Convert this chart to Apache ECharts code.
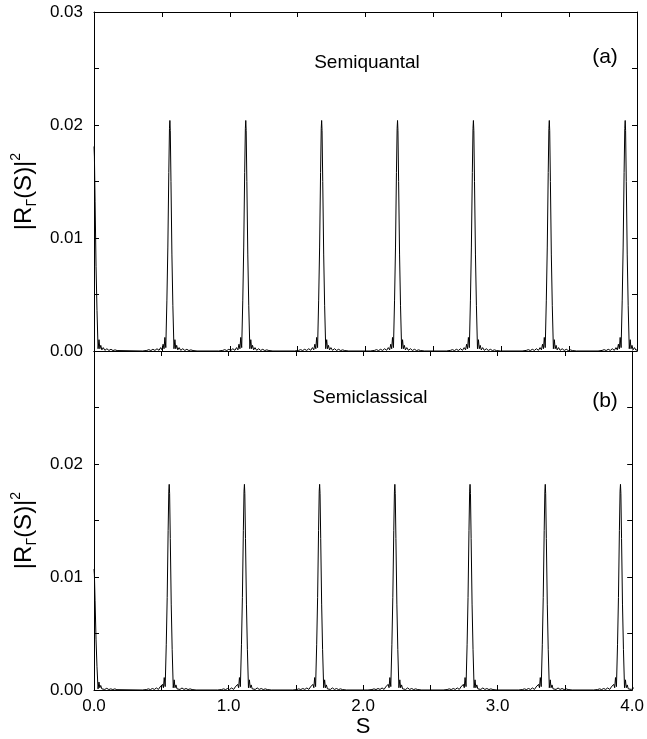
<!DOCTYPE html>
<html><head><meta charset="utf-8">
<script src="https://cdn.jsdelivr.net/npm/echarts@6/dist/echarts.min.js"></script>
<style>html,body{margin:0;padding:0;background:#fff}#c{width:647px;height:739px}</style>
</head><body><div id="c"></div>
<script>
// ---- data ----
// sample offsets (in S) around each resonance peak
const peakOffsets = [-0.17,-0.155,-0.14,-0.125,-0.11,-0.095,-0.08,-0.068,-0.058,-0.05,-0.043,-0.037,-0.03,-0.022,-0.015,-0.008,-0.003,0,0.003,0.008,0.015,0.022,0.03,0.037,0.043,0.05,0.058,0.068,0.08,0.095,0.11,0.125,0.14,0.155,0.17];
// |R|^2 profile of a full peak, panel (a) Semiquantal
const peakShapeA = [0.00005,0.00012,0.00004,0.00015,0.00005,0.0002,0.00006,0.0003,0.0001,0.0006,0.0002,0.0012,0.0003,0.0045,0.0092,0.0158,0.0197,0.0204,0.0195,0.0150,0.0085,0.0040,0.0002,0.0010,0.0002,0.0005,0.0001,0.0003,0.00006,0.0002,0.00005,0.00015,0.00004,0.0001,0.00004];
// |R|^2 profile of a full peak, panel (b) Semiclassical
const peakShapeB = [0.00004,0.0001,0.00004,0.00013,0.00005,0.00018,0.00005,0.00027,0.0001,0.0005,0.0002,0.0011,0.0003,0.0040,0.0082,0.0141,0.0176,0.0182,0.0174,0.0134,0.0076,0.0036,0.0002,0.0009,0.0002,0.00045,0.0001,0.00027,0.00005,0.00018,0.00005,0.00013,0.00004,0.0001,0.00004];
// half peak at S = 0 (offsets 0 .. 0.17)
const edgeShapeA = [0.0181,0.0172,0.0132,0.0075,0.0036,0.0002,0.0010,0.0002,0.0005,0.0001,0.0003,0.00006,0.0002,0.00005,0.00015,0.00004,0.0001,0.00004];
const edgeShapeB = [0.0107,0.0102,0.0079,0.0045,0.0021,0.0001,0.0007,0.0002,0.0004,0.0001,0.0002,0.00005,0.00015,0.00004,0.0001,0.00004,0.0001,0.00003];
// peak positions in S
const peakCentersA = [0.559,1.118,1.677,2.236,2.795,3.354,3.913];
const peakCentersB = [0.559,1.118,1.677,2.236,2.795,3.354,3.913];
// tick labels
const xTickLabels = ['0.0','1.0','2.0','3.0','4.0'];
const yTickLabels = ['0.00','0.01','0.02','0.03'];
const panelTitles = ['Semiquantal','Semiclassical'];
const panelTags = ['(a)','(b)'];

function buildSeries(edge, centers, shape) {
  const pts = [];
  const z = peakOffsets.indexOf(0);
  for (let i = 0; i < edge.length; i++) pts.push([peakOffsets[z + i], edge[i]]);
  centers.forEach(c => {
    pts.push([+(c - 0.2).toFixed(4), 0]);
    shape.forEach((v, i) => pts.push([+(c + peakOffsets[i]).toFixed(4), v]));
    pts.push([+(c + 0.2).toFixed(4), 0]);
  });
  return pts;
}
const dataA = buildSeries(edgeShapeA, peakCentersA, peakShapeA);
const dataB = buildSeries(edgeShapeB, peakCentersB, peakShapeB);

const FONT = "'Liberation Sans', Arial, Helvetica, sans-serif";
const black = '#000';
const axisLineStyle = {show: true, onZero: false, lineStyle: {color: black, width: 1}};
const tickStyle = {show: true, inside: true, length: 5, lineStyle: {color: black, width: 1}};

function yLabel(v) {
  const k = Math.round(v * 1000);
  return k % 10 === 0 ? yTickLabels[k / 10] : '';
}
function xLabel(v) {
  const k = Math.round(v * 10);
  return k % 10 === 0 ? xTickLabels[k / 10] : '';
}

const yName = '{m||R}{s|\u0393}{m|(S)|}{p|2}';
const yNameStyle = {
  padding: [0, 20, 0, 0],
  rich: {
    m: {fontSize: 24, fontFamily: FONT, color: black, lineHeight: 30},
    s: {fontSize: 14, fontFamily: FONT, color: black, lineHeight: 14, verticalAlign: 'bottom'},
    p: {fontSize: 14, fontFamily: FONT, color: black, lineHeight: 14, verticalAlign: 'top'}
  }
};

function mkY(gridIndex, showMax) {
  return [{
    gridIndex, type: 'value', min: 0, max: 0.03, interval: 0.005, position: 'left',
    axisLine: axisLineStyle, axisTick: tickStyle, splitLine: {show: false},
    axisLabel: {formatter: yLabel, fontSize: 17, fontFamily: FONT, color: black, margin: 11, showMaxLabel: showMax},
    name: yName, nameLocation: 'middle', nameRotate: 90, nameGap: 52, nameTextStyle: yNameStyle
  }, {
    gridIndex, type: 'value', min: 0, max: 0.03, interval: 0.005, position: 'right',
    axisLine: axisLineStyle, axisTick: tickStyle, splitLine: {show: false}, axisLabel: {show: false}
  }];
}
function mkX(gridIndex, showLabels) {
  const bottom = {
    gridIndex, type: 'value', min: 0, max: 4, interval: 0.5, position: 'bottom',
    axisLine: axisLineStyle, axisTick: tickStyle, splitLine: {show: false},
    axisLabel: {show: showLabels, formatter: xLabel, fontSize: 17, fontFamily: FONT, color: black, margin: 8}
  };
  if (showLabels) {
    bottom.name = 'S';
    bottom.nameLocation = 'middle';
    bottom.nameGap = 24;
    bottom.nameTextStyle = {fontSize: 22, fontFamily: FONT, color: black};
  }
  const top = {
    gridIndex, type: 'value', min: 0, max: 4, interval: 0.5, position: 'top',
    axisLine: axisLineStyle, axisTick: tickStyle, splitLine: {show: false}, axisLabel: {show: false}
  };
  return [bottom, top];
}

const chart = echarts.init(document.getElementById('c'), null, {renderer: 'canvas'});
chart.setOption({
  animation: false,
  backgroundColor: '#fff',
  grid: [
    {left: 94, top: 12, width: 543, height: 339},
    {left: 94, top: 351, width: 543, height: 339}
  ],
  xAxis: [...mkX(0, false), ...mkX(1, true)],
  yAxis: [...mkY(0, true), ...mkY(1, false)],
  series: [
    {type: 'line', xAxisIndex: 0, yAxisIndex: 0, data: dataA, showSymbol: false, symbol: 'none',
     lineStyle: {color: black, width: 1}, clip: true},
    {type: 'line', xAxisIndex: 2, yAxisIndex: 2, data: dataB, showSymbol: false, symbol: 'none',
     lineStyle: {color: black, width: 1}, clip: true}
  ],
  graphic: [
    {type: 'text', x: 367, y: 63, style: {text: panelTitles[0], font: '19px ' + FONT, fill: black, textAlign: 'center', textVerticalAlign: 'middle'}},
    {type: 'text', x: 605, y: 57, style: {text: panelTags[0], font: '21px ' + FONT, fill: black, textAlign: 'center', textVerticalAlign: 'middle'}},
    {type: 'text', x: 370, y: 398, style: {text: panelTitles[1], font: '19px ' + FONT, fill: black, textAlign: 'center', textVerticalAlign: 'middle'}},
    {type: 'text', x: 605, y: 401, style: {text: panelTags[1], font: '21px ' + FONT, fill: black, textAlign: 'center', textVerticalAlign: 'middle'}}
  ]
});
</script>
</body></html>
